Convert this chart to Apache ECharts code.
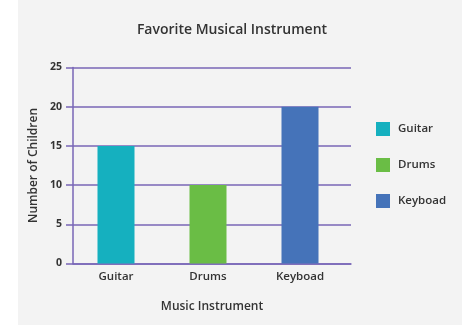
<!DOCTYPE html>
<html>
<head>
<meta charset="utf-8">
<script src="https://cdn.jsdelivr.net/npm/echarts@6/dist/echarts.min.js"></script>
<style>
  html, body { margin: 0; padding: 0; background: #ffffff; }
  #panel { position: absolute; left: 18px; top: 0; width: 444px; height: 325px; background: #f3f3f3; }
  #chart { position: absolute; left: 0; top: 0; width: 462px; height: 325px; }
</style>
</head>
<body>
<div id="panel"></div>
<div id="chart"></div>
<script>
// Survey results: favourite instrument per child
const categories = ['Guitar', 'Drums', 'Keyboad'];
const guitarValues = [15, '-', '-'];
const drumsValues = ['-', 10, '-'];
const keyboardValues = ['-', '-', 20];
const seriesColors = ['#15b0bf', '#6abd45', '#4573b9'];
const yTicks = [0, 5, 10, 15, 20, 25];

const font = '"Open Sans", sans-serif';
const ink = '#333333';
const purple = '#7866b6';

const chart = echarts.init(document.getElementById('chart'), null, { renderer: 'canvas' });

const seriesData = [guitarValues, drumsValues, keyboardValues];
const series = categories.map((name, i) => ({
  name: name,
  type: 'bar',
  stack: 'total',
  xAxisIndex: 1,
  yAxisIndex: 1,
  barWidth: 37,
  data: seriesData[i],
  itemStyle: { color: seriesColors[i] }
}));

chart.setOption({
  backgroundColor: 'transparent',
  animation: false,
  title: {
    text: 'Favorite Musical Instrument',
    left: 227,
    textAlign: 'center',
    top: 18,
    textStyle: { fontFamily: font, fontSize: 14, fontWeight: 600, color: ink }
  },
  legend: {
    orient: 'vertical',
    left: 371,
    top: 117,
    itemWidth: 14,
    itemHeight: 14,
    itemGap: 22,
    icon: 'rect',
    data: categories,
    textStyle: { fontFamily: font, fontSize: 11.5, fontWeight: 600, color: ink, padding: [0, 0, 0, 3] }
  },
  grid: [
    { left: 73, right: 111, top: 67.5, bottom: 61.5 },
    { left: 70, right: 116, top: 67.5, bottom: 61.5 }
  ],
  xAxis: [
    {
      type: 'category', gridIndex: 0, data: categories,
      axisLine: { show: true, lineStyle: { color: purple, width: 1.5 } },
      axisTick: { show: false }, axisLabel: { show: false }, splitLine: { show: false },
      name: 'Music Instrument', nameLocation: 'middle', nameGap: 37,
      nameTextStyle: { fontFamily: font, fontSize: 12, fontWeight: 600, color: ink }
    },
    {
      type: 'category', gridIndex: 1, data: categories,
      axisLine: { show: false }, axisTick: { show: false },
      axisLabel: { fontFamily: font, fontSize: 11.5, fontWeight: 600, color: ink, margin: 7 }
    }
  ],
  yAxis: [
    {
      type: 'value', gridIndex: 0, min: yTicks[0], max: yTicks[yTicks.length - 1], interval: 5,
      axisLine: { show: true, lineStyle: { color: purple, width: 1.5 } },
      axisTick: { show: true, length: 7, lineStyle: { color: purple, width: 1.5 } },
      axisLabel: { fontFamily: font, fontSize: 10.5, fontWeight: 700, color: ink, margin: 11 },
      splitLine: { show: true, lineStyle: { color: purple, width: 1.5 } },
      name: 'Number of Children', nameLocation: 'middle', nameGap: 27,
      nameTextStyle: { fontFamily: font, fontSize: 12, fontWeight: 600, color: ink }
    },
    {
      type: 'value', gridIndex: 1, min: yTicks[0], max: yTicks[yTicks.length - 1], interval: 5,
      show: false
    }
  ],
  series: series
});
</script>
</body>
</html>
